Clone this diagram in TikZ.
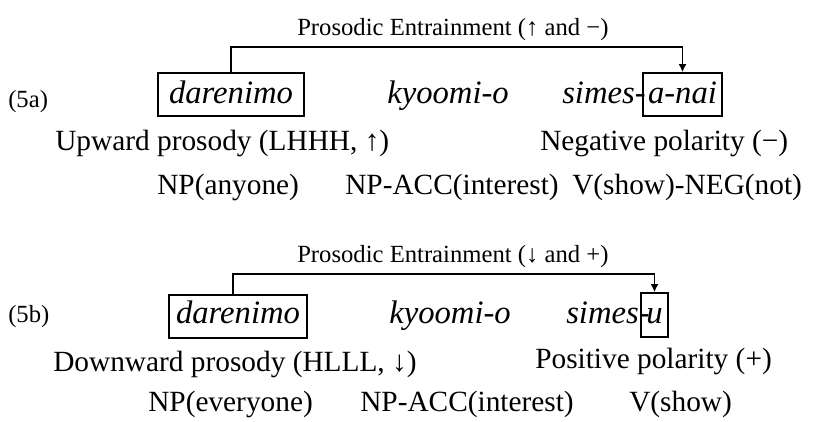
\documentclass[tikz,border=0pt]{standalone}
\usepackage{fontspec}
\setmainfont{Liberation Serif}[
  ItalicFont={Liberation Serif Italic},
  BoldFont={Liberation Serif Bold}]
\usetikzlibrary{arrows.meta}

% sizes given in pixels of the final picture (1px = 0.75pt)
\newcommand{\ttlsize}{\fontsize{18.5}{22}\selectfont}
\newcommand{\txtsize}{\fontsize{22}{26}\selectfont}
\newcommand{\itsize}{\fontsize{24.5}{28}\selectfont\itshape}

\tikzset{
  label5/.style={anchor=base west, inner sep=0pt, font=\ttlsize},
  ttl/.style={anchor=base west, inner sep=0pt, font=\ttlsize},
  gloss/.style={anchor=base west, inner sep=0pt, font=\txtsize},
  word/.style={anchor=base west, inner sep=0pt, font=\itsize},
  wbox/.style={draw, line width=1.3pt, inner xsep=0pt, inner ysep=0pt,
    font=\itsize, anchor=base, text height=22.5pt, text depth=9.75pt},
  link/.style={line width=1.3pt, -{Latex[length=6pt,width=6pt]}},
}

\begin{document}
\begin{tikzpicture}[x=0.75pt, y=-0.75pt]
\useasboundingbox (0,0) rectangle (816,421);

% ---------- (5a) ----------
\node[ttl] (t1) at (297,35) {Prosodic Entrainment (↑ and −)};
\node[label5] (l1) at (8,107) {(5a)};
\node[wbox, minimum width=109.5pt] (d1) at (231,103) {darenimo};
\node[word] (k1) at (387,103) {kyoomi-o};
\node[word] (s1) at (562,103) {simes-};
\node[wbox, minimum width=59.25pt] (n1) at (682.5,103) {a-nai};
\node[gloss] (u1) at (55,150) {Upward prosody (LHHH, ↑)};
\node[gloss] (p1) at (540,150) {Negative polarity (−)};
\node[gloss] (g1a) at (157,194) {NP(anyone)};
\node[gloss] (g1b) at (345,194) {NP-ACC(interest)};
\node[gloss] (g1c) at (572,194) {V(show)-NEG(not)};
\draw[link] (d1.north) -- ++(0,-25) -| (n1.north);

% ---------- (5b) ----------
\node[ttl] (t2) at (297,262) {Prosodic Entrainment (↓ and +)};
\node[label5] (l2) at (8,322) {(5b)};
\node[wbox, minimum width=103.5pt, text height=21pt, text depth=11.25pt]
  (d2) at (238,323) {darenimo};
\node[word] (k2) at (389,323) {kyoomi-o};
\node[word] (s2) at (566,323) {simes-};
\node[wbox, minimum width=20.25pt, text height=22.5pt, text depth=10.5pt]
  (n2) at (654.5,323) {u};
\node[gloss] (u2) at (53,371) {Downward prosody (HLLL, ↓)};
\node[gloss] (p2) at (535,368) {Positive polarity (+)};
\node[gloss] (g2a) at (148,411) {NP(everyone)};
\node[gloss] (g2b) at (360,411) {NP-ACC(interest)};
\node[gloss] (g2c) at (629,411) {V(show)};
\draw[link] ([xshift=-3.75pt]d2.north) -- ++(0,-20) -| (n2.north);
\end{tikzpicture}
\end{document}
